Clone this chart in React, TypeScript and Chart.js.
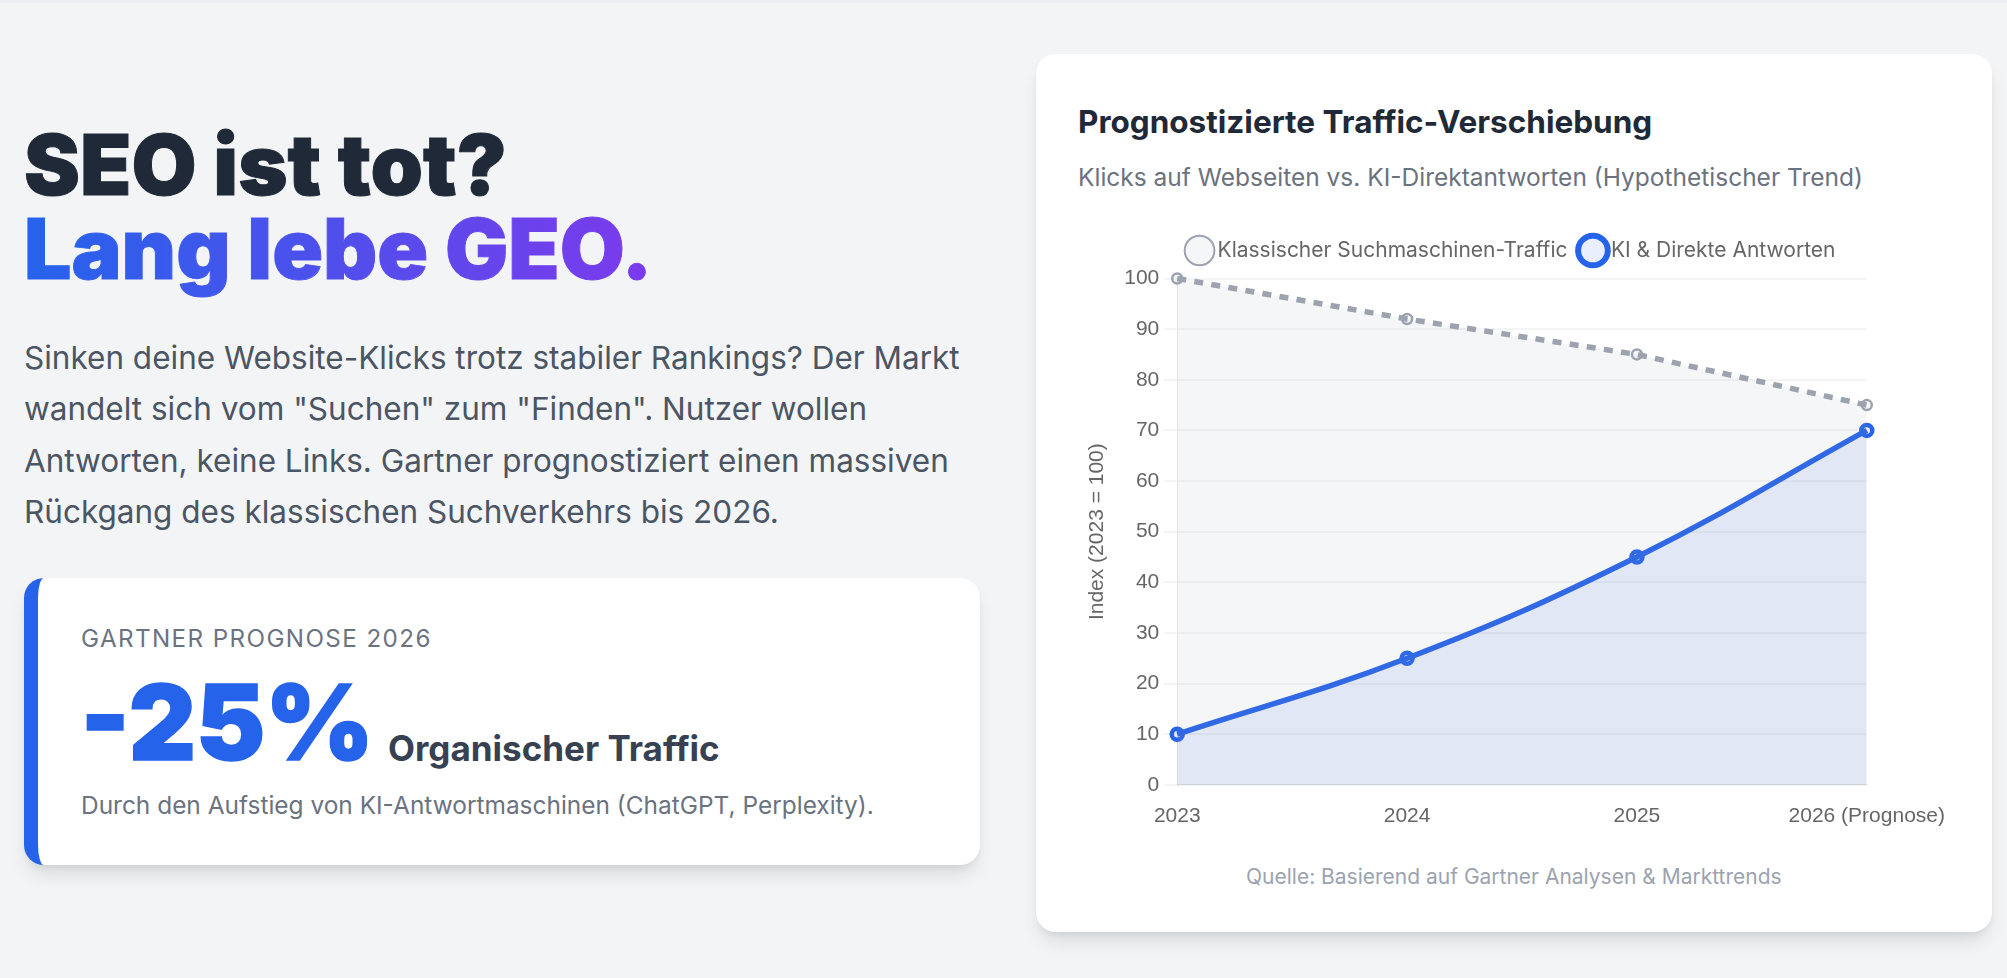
import { useEffect, useRef } from "react";
import { Chart, registerables } from "chart.js";

Chart.register(...registerables);

const years = ["2023", "2024", "2025", "2026 (Prognose)"];
const classicTraffic = [100, 92, 85, 75];
const aiAnswers = [10, 25, 45, 70];
const classicLabel = "Klassischer Suchmaschinen-Traffic";
const aiLabel = "KI & Direkte Antworten";
const yTitle = "Index (2023 = 100)";

const inter = "Inter, sans-serif";

// push the plot down from the legend
const legendGap = {
  id: "legendGap",
  beforeInit(chart: any) {
    const fit = chart.legend.fit;
    chart.legend.fit = function () {
      fit.call(this);
      this.height += 7.5;
    };
  },
};

function TrafficChart() {
  const canvasRef = useRef<HTMLCanvasElement>(null);

  useEffect(() => {
    if (!canvasRef.current) return;
    const chart = new Chart(canvasRef.current, {
      type: "line",
      plugins: [legendGap],
      data: {
        labels: years,
        datasets: [
          {
            label: classicLabel,
            data: classicTraffic,
            borderColor: "#9ca3af",
            backgroundColor: "rgba(156, 163, 175, 0.1)",
            borderDash: [9, 8.3],
            borderWidth: 5.5,
            pointRadius: 5,
            pointBorderWidth: 2.5,
            tension: 0,
            fill: true,
            clip: false,
          },
          {
            label: aiLabel,
            data: aiAnswers,
            borderColor: "#2563eb",
            backgroundColor: "rgba(37, 99, 235, 0.1)",
            borderWidth: 5.5,
            pointRadius: 5.5,
            pointBorderWidth: 4.5,
            tension: 0.4,
            fill: true,
            clip: false,
          },
        ],
      },
      options: {
        responsive: false,
        animation: false,
        layout: { padding: { left: 2.5 } },
        plugins: {
          legend: {
            position: "top",
            labels: {
              usePointStyle: true,
              boxWidth: 15,
              color: "#666666",
              font: { family: "Inter", size: 21 },
              padding: 18,
              generateLabels: (c) =>
                Chart.defaults.plugins.legend.labels
                  .generateLabels(c)
                  .map((item, i) => ({ ...item, lineWidth: i === 0 ? 2 : 6 })),
            },
          },
        },
        scales: {
          x: {
            grid: { display: false, tickLength: 17 },
            ticks: {
              color: "#666666",
              maxRotation: 0,
              padding: 2,
              font: { family: "Liberation Sans", size: 21 },
            },
          },
          y: {
            min: 0,
            max: 100,
            grid: { color: "#f3f4f6", lineWidth: 2, tickLength: 13 },
            ticks: {
              stepSize: 10,
              color: "#666666",
              padding: 5,
              font: { family: "Liberation Sans", size: 21 },
            },
            title: {
              display: true,
              text: yTitle,
              color: "#666666",
              padding: { top: 4, bottom: 9.5 },
              font: { family: "Liberation Sans", size: 21 },
            },
          },
        },
      },
    });
    return () => chart.destroy();
  }, []);

  return (
    <canvas
      ref={canvasRef}
      width={869}
      height={609}
      style={{ position: "absolute", left: 1078, top: 222, width: 869, height: 609 }}
    />
  );
}

type TextProps = {
  left: number;
  top: number;
  size: number;
  color: string;
  weight?: number;
  spacing?: number;
  stroke?: number;
  children: React.ReactNode;
};

function Line({ left, top, size, color, weight = 400, spacing = 0, stroke = 0, children }: TextProps) {
  return (
    <div
      style={{
        position: "absolute",
        left,
        top,
        fontSize: size,
        color,
        fontWeight: weight,
        letterSpacing: spacing,
        lineHeight: 1.2,
        whiteSpace: "nowrap",
        WebkitTextStroke: stroke ? `${stroke}px ${color}` : undefined,
      }}
    >
      {children}
    </div>
  );
}

export default function App() {
  return (
    <div
      style={{
        position: "absolute",
        left: 0,
        top: 0,
        width: 2007,
        height: 978,
        overflow: "hidden",
        background: "#f3f4f6",
        fontFamily: inter,
      }}
    >
      <div style={{ position: "absolute", left: 0, top: 0, width: 2007, height: 3, background: "#eceef1" }} />

      <Line left={24} top={115} size={84} color="#1f2937" weight={900} stroke={1}>
        SEO ist tot?
      </Line>
      <div
        style={{
          position: "absolute",
          left: 24,
          top: 199,
          fontSize: 84,
          fontWeight: 900,
          lineHeight: 1.2,
          whiteSpace: "nowrap",
          background: "linear-gradient(90deg, #2563eb, #7c3aed)",
          WebkitBackgroundClip: "text",
          backgroundClip: "text",
          color: "transparent",
          WebkitTextStroke: "1px transparent",
        }}
      >
        Lang lebe GEO.
      </div>

      <Line left={24} top={338.5} size={31.5} color="#4b5563">Sinken deine Website-Klicks trotz stabiler Rankings? Der Markt</Line>
      <Line left={24} top={390} size={31.5} color="#4b5563">wandelt sich vom "Suchen" zum "Finden". Nutzer wollen</Line>
      <Line left={24} top={441.5} size={31.5} color="#4b5563">Antworten, keine Links. Gartner prognostiziert einen massiven</Line>
      <Line left={24} top={493} size={31.5} color="#4b5563">Rückgang des klassischen Suchverkehrs bis 2026.</Line>

      <div
        style={{
          position: "absolute",
          left: 24,
          top: 578,
          width: 956,
          height: 287,
          boxSizing: "border-box",
          background: "#ffffff",
          borderLeft: "14px solid #2563eb",
          borderRadius: 20,
          boxShadow: "0 13px 20px -4px rgba(0,0,0,0.1), 0 5px 8px -3px rgba(0,0,0,0.08)",
        }}
      />
      <Line left={81} top={624} size={24.2} color="#6b7280" spacing={1.4}>GARTNER PROGNOSE 2026</Line>
      <Line left={80.5} top={660} size={104} color="#2563eb" weight={900} stroke={1.5}>-25%</Line>
      <Line left={388} top={727} size={35} color="#374151" weight={700}>Organischer Traffic</Line>
      <Line left={81} top={791} size={24.45} color="#6b7280">Durch den Aufstieg von KI-Antwortmaschinen (ChatGPT, Perplexity).</Line>

      <div
        style={{
          position: "absolute",
          left: 1036,
          top: 54,
          width: 956,
          height: 878,
          background: "#ffffff",
          borderRadius: 20,
          boxShadow: "0 13px 20px -4px rgba(0,0,0,0.1), 0 5px 8px -3px rgba(0,0,0,0.08)",
        }}
      />
      <Line left={1078} top={102.5} size={31.5} color="#1f2937" weight={700}>Prognostizierte Traffic-Verschiebung</Line>
      <Line left={1078} top={162.5} size={24.5} color="#6b7280">Klicks auf Webseiten vs. KI-Direktantworten (Hypothetischer Trend)</Line>
      <TrafficChart />
      <Line left={1246} top={864} size={21} color="#9ca3af">Quelle: Basierend auf Gartner Analysen &amp; Markttrends</Line>
    </div>
  );
}
